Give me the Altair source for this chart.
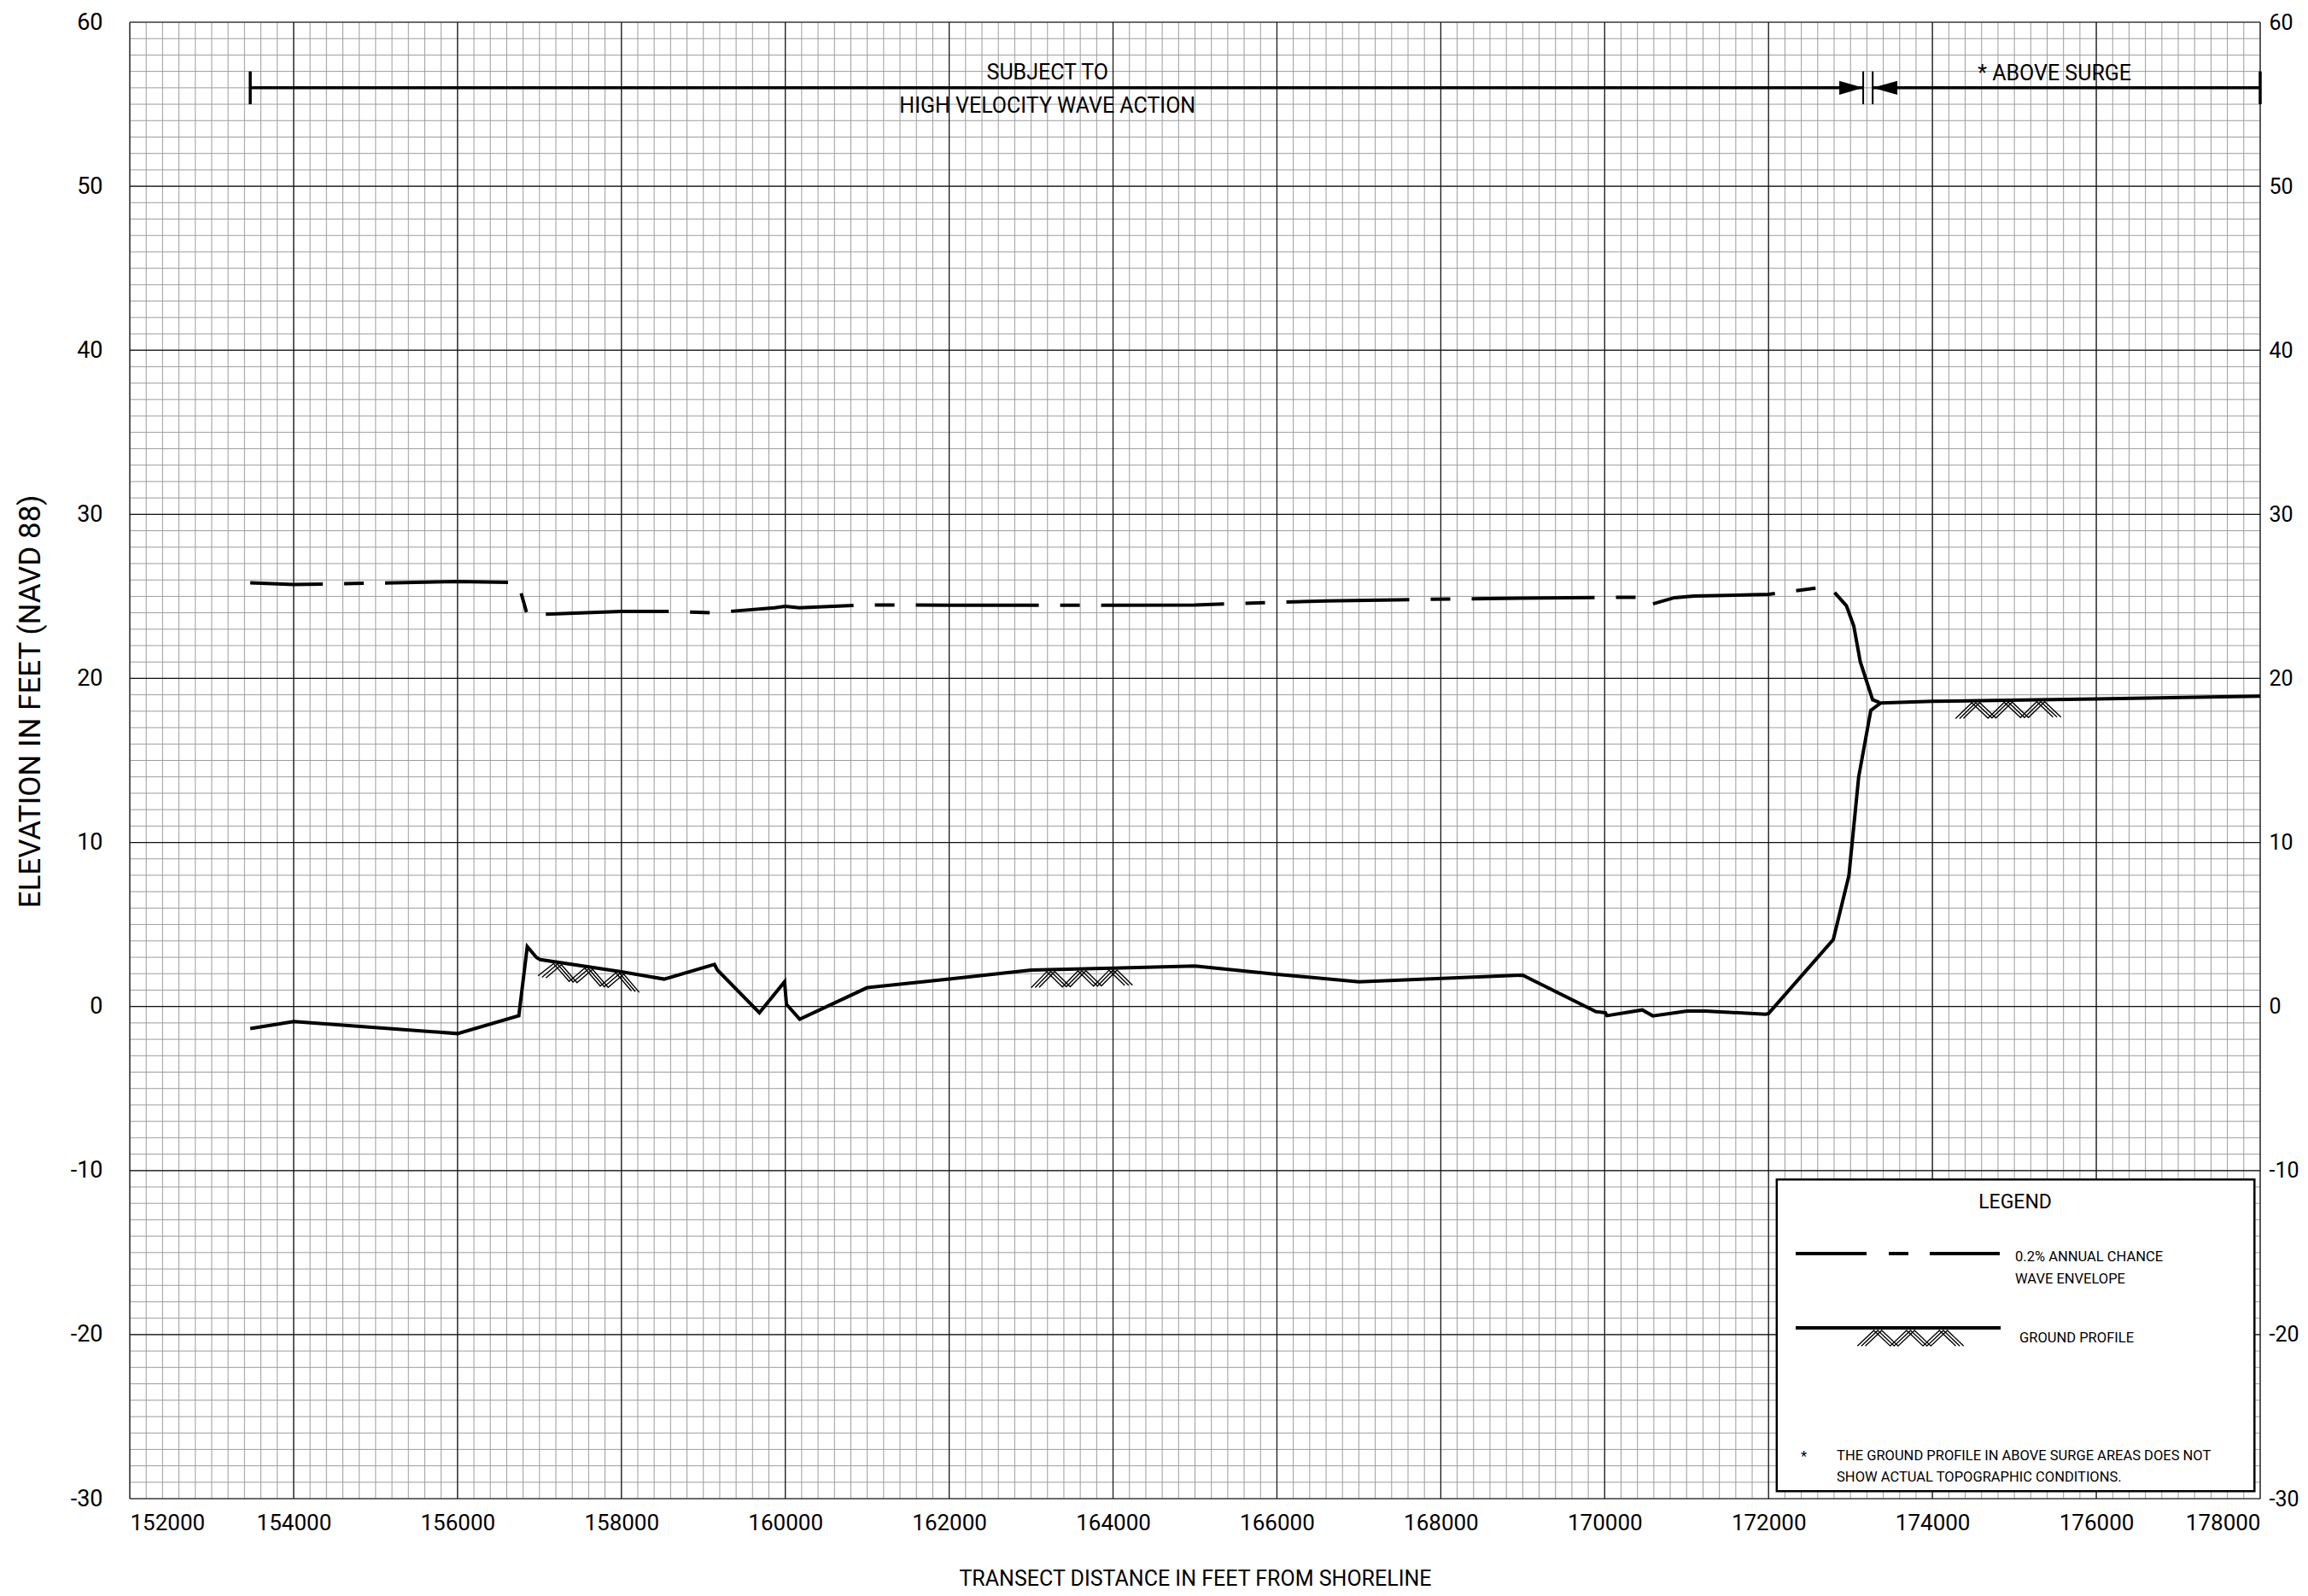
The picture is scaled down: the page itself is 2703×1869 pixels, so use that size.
import altair as alt
import pandas as pd
import numpy as np

FONT = "Roboto"
W, H = 2495, 1729
X_MIN, X_MAX = 152000, 178000
Y_MIN, Y_MAX = -30, 60

# axis / grid positions
x_major = list(range(152000, 178001, 2000))
y_major = list(range(-30, 61, 10))
x_minor = list(range(152000, 178001, 200))
y_minor = list(range(-30, 61, 1))

# ground profile
ground_x = [153470, 154000, 156000, 156748, 156851, 156963, 157010, 158000, 158521,
            159135, 159172, 159684, 159991, 160014, 160176, 161000, 162000, 163000,
            164000, 165000, 166000, 167000, 169000, 169890, 170008, 170028, 170459,
            170587, 171006, 171226, 171964, 172000, 172790, 172981, 173100, 173248,
            173370, 174000, 176000, 178000]
ground_y = [-1.34, -0.92, -1.65, -0.56, 3.65, 2.99, 2.86, 2.12, 1.67,
            2.57, 2.22, -0.38, 1.51, 0.14, -0.78, 1.15, 1.68, 2.22,
            2.34, 2.47, 1.96, 1.51, 1.91, -0.31, -0.38, -0.56, -0.21,
            -0.57, -0.28, -0.28, -0.47, -0.43, 4.08, 7.99, 14.0, 18.05,
            18.5, 18.6, 18.75, 18.92]

# 0.2% annual chance wave envelope
env_x = [153470, 154000, 156000, 156740, 156850, 158000, 158560, 159110, 159870,
         160000, 160170, 161000, 162000, 164000, 165000, 165860, 166600, 168100,
         170000, 170400, 170500, 170850, 171090, 172000, 172580, 172750, 172950,
         173040, 173120, 173270, 173370]
env_y = [25.83, 25.72, 25.9, 25.85, 23.88, 24.08, 24.08, 24.0, 24.3,
         24.4, 24.3, 24.48, 24.46, 24.46, 24.48, 24.62, 24.72, 24.84,
         24.94, 24.94, 24.42, 24.92, 25.02, 25.12, 25.5, 25.55, 24.43,
         23.2, 21.0, 18.7, 18.5]

# hatch spans under the ground profile (start, end)
hatch_spans = [(157030, 158170), (163050, 164190), (174330, 175520)]

# annotation texts
top_text = ["SUBJECT TO", "HIGH VELOCITY WAVE ACTION", "* ABOVE SURGE"]
top_text_x = [163200, 163200, 175490]
top_text_y = [56.95, 54.9, 56.9]
arrow_y = 56
arrow_segments = [(153470, 173155), (173271, 178000)]
end_bars_x = [153470, 178000]
mid_bars_x = [173155, 173271]
arrowheads = [(172863, 173155), (173572, 173271)]  # (base x, tip x)

# legend box (data coordinates)
legend_box = dict(x=172100, x2=177930, y=-10.55, y2=-29.55)
legend_texts = ["LEGEND", "0.2% ANNUAL CHANCE", "WAVE ENVELOPE", "GROUND PROFILE",
                "*", "THE GROUND PROFILE IN ABOVE SURGE AREAS DOES NOT",
                "SHOW ACTUAL TOPOGRAPHIC CONDITIONS."]
legend_text_x = [175010, 175010, 175010, 175062, 172430, 172832, 172832]
legend_text_y = [-11.94, -15.27, -16.63, -20.21, -27.45, -27.4, -28.7]
legend_text_size = [23, 16.5, 16.5, 16.5, 16.5, 16.5, 16.5]
legend_text_align = ["center", "left", "left", "left", "center", "left", "left"]
legend_env_line = (172331, 174822, -15.06)
legend_ground_line = (172331, 174833, -19.59)
legend_hatch_span = (173133, 174333)

xs = alt.Scale(domain=[X_MIN, X_MAX], nice=False, zero=False)
ys = alt.Scale(domain=[Y_MIN, Y_MAX], nice=False, zero=False)


def X(field="x"):
    return alt.X(f"{field}:Q", scale=xs, axis=None)


def Y(field="y"):
    return alt.Y(f"{field}:Q", scale=ys, axis=None)


# ---------- grid ----------
minor_v = alt.Chart(pd.DataFrame({"x": x_minor})).mark_rule(
    color="#9c9c9c", strokeWidth=1).encode(x=X())
minor_h = alt.Chart(pd.DataFrame({"y": y_minor})).mark_rule(
    color="#9c9c9c", strokeWidth=1).encode(y=Y())
major_v = alt.Chart(pd.DataFrame({"x": x_major})).mark_rule(
    color="#111111", strokeWidth=1.2).encode(x=X())
major_h = alt.Chart(pd.DataFrame({"y": y_major})).mark_rule(
    color="#111111", strokeWidth=1.2).encode(y=Y())

# ---------- data lines ----------
gdf = pd.DataFrame({"x": ground_x, "y": ground_y, "i": range(len(ground_x))})
edf = pd.DataFrame({"x": env_x, "y": env_y, "i": range(len(env_x))})

ground = alt.Chart(gdf).mark_line(color="black", strokeWidth=4, strokeJoin="miter").encode(
    x=alt.X("x:Q", scale=xs, axis=alt.Axis(
        values=x_major, format="d", ticks=False, domain=False, grid=False,
        labelFont=FONT, labelFontSize=26, labelColor="black", labelFlush=True,
        labelPadding=15, orient="bottom",
        title="TRANSECT DISTANCE IN FEET FROM SHORELINE", titleFont=FONT,
        titleFontSize=25, titleFontWeight="normal", titleColor="black",
        titleX=W / 2, titleY=93, titleAlign="center", titleBaseline="middle")),
    y=alt.Y("y:Q", scale=ys, axis=alt.Axis(
        values=y_major, labelExpr="datum.value + ''", ticks=False, domain=False,
        grid=False, labelFont=FONT, labelFontSize=27, labelColor="black",
        labelPadding=32, labelBaseline="middle", orient="left",
        title="ELEVATION IN FEET (NAVD 88)", titleFont=FONT, titleFontSize=35,
        titleFontWeight="normal", titleColor="black", titleAngle=270,
        titleX=-117, titleY=795, titleAlign="center", titleBaseline="middle")),
    order="i:Q")

envelope = alt.Chart(edf).mark_line(
    color="black", strokeWidth=4, strokeDash=[144, 25, 23, 25], strokeDashOffset=59,
    strokeCap="butt").encode(
    x=X(),
    y=alt.Y("y:Q", scale=ys, title=None, axis=alt.Axis(
        values=y_major, labelExpr="datum.value + ''", ticks=False, domain=False,
        grid=False, labelFont=FONT, labelFontSize=25, labelColor="black",
        labelPadding=10, labelBaseline="middle", orient="right")),
    order="i:Q")


# ---------- hatch symbols ----------
def zigzag_rows(x0, x1, top_fn, key, depth=0.95, gap=0.12, offsets=(-48, 0, 48)):
    n = max(2, int(round((x1 - x0) / 200.0 / 2)) * 2)
    step = (x1 - x0) / n
    rows = []
    for s, off in enumerate(offsets):
        for k in range(n + 1):
            xx = x0 + k * step + off
            top = top_fn(xx) - gap
            yy = top - depth if k % 2 == 0 else top
            rows.append({"x": xx, "y": yy, "strand": f"{key}-{s}", "i": k})
    return rows


hrows = []
for j, (a, b) in enumerate(hatch_spans):
    hrows += zigzag_rows(a, b, lambda v: float(np.interp(v, ground_x, ground_y)), f"h{j}")
lg = legend_ground_line
hrows += zigzag_rows(legend_hatch_span[0], legend_hatch_span[1],
                     lambda v: lg[2], "leg", gap=0.15)
hatch = alt.Chart(pd.DataFrame(hrows)).mark_line(color="black", strokeWidth=1.4).encode(
    x=X(), y=Y(), detail="strand:N", order="i:Q")

# ---------- top annotation ----------
seg_df = pd.DataFrame({"x": [s[0] for s in arrow_segments],
                       "x2": [s[1] for s in arrow_segments],
                       "y": [arrow_y] * len(arrow_segments)})
arrow_line = alt.Chart(seg_df).mark_rule(color="black", strokeWidth=3.5).encode(
    x=X(), x2="x2:Q", y=Y())
end_bars = alt.Chart(pd.DataFrame({"x": end_bars_x, "y": [arrow_y - 1] * 2,
                                   "y2": [arrow_y + 1] * 2})).mark_rule(
    color="black", strokeWidth=3.5).encode(x=X(), y=Y(), y2="y2:Q")
mid_bars = alt.Chart(pd.DataFrame({"x": mid_bars_x, "y": [arrow_y - 1] * 2,
                                   "y2": [arrow_y + 1] * 2})).mark_rule(
    color="black", strokeWidth=2).encode(x=X(), y=Y(), y2="y2:Q")
ah_rows = []
for j, (base, tip) in enumerate(arrowheads):
    ah_rows.append({"x": base, "y": arrow_y - 0.42, "y2": arrow_y + 0.42, "g": j})
    ah_rows.append({"x": tip, "y": arrow_y, "y2": arrow_y, "g": j})
arrow_heads = alt.Chart(pd.DataFrame(ah_rows)).mark_area(color="black").encode(
    x=X(), y=Y(), y2="y2:Q", detail="g:N")
top_labels = alt.Chart(pd.DataFrame({"t": top_text, "x": top_text_x, "y": top_text_y})).mark_text(
    font=FONT, fontSize=25, color="black", baseline="middle", align="center").encode(
    x=X(), y=Y(), text="t:N")

# ---------- legend ----------
box = alt.Chart(pd.DataFrame([legend_box])).mark_rect(
    fill="white", stroke="black", strokeWidth=2.5).encode(
    x=X(), x2="x2:Q", y=Y(), y2="y2:Q")
lt_df = pd.DataFrame({"t": legend_texts, "x": legend_text_x, "y": legend_text_y,
                      "s": legend_text_size, "a": legend_text_align})
leg_text_layers = []
for align in ["center", "left"]:
    for size in sorted(set(legend_text_size)):
        sub = lt_df[(lt_df.a == align) & (lt_df.s == size)]
        if len(sub) == 0:
            continue
        leg_text_layers.append(alt.Chart(sub).mark_text(
            font=FONT, fontSize=size, color="black", baseline="middle", align=align).encode(
            x=X(), y=Y(), text="t:N"))
le = legend_env_line
leg_env = alt.Chart(pd.DataFrame({"x": [le[0]], "x2": [le[1]], "y": [le[2]]})).mark_rule(
    color="black", strokeWidth=4, strokeDash=[83, 26, 23, 25, 82], strokeCap="butt").encode(
    x=X(), x2="x2:Q", y=Y())
leg_ground = alt.Chart(pd.DataFrame({"x": [lg[0]], "x2": [lg[1]], "y": [lg[2]]})).mark_rule(
    color="black", strokeWidth=4).encode(x=X(), x2="x2:Q", y=Y())

chart = alt.layer(
    minor_v, minor_h, major_v, major_h,
    envelope, ground,
    arrow_line, end_bars, mid_bars, arrow_heads, top_labels,
    box, *leg_text_layers, leg_env, leg_ground,
    hatch,
).resolve_axis(x="independent", y="independent").properties(
    width=W, height=H,
    padding={"left": 144, "top": 18, "right": 48, "bottom": 106},
    autosize=alt.AutoSizeParams(type="none"),
).configure_view(stroke="black", strokeWidth=2).configure(background="white")

chart.save("out.html", embed_options={"renderer": "svg", "actions": False})
